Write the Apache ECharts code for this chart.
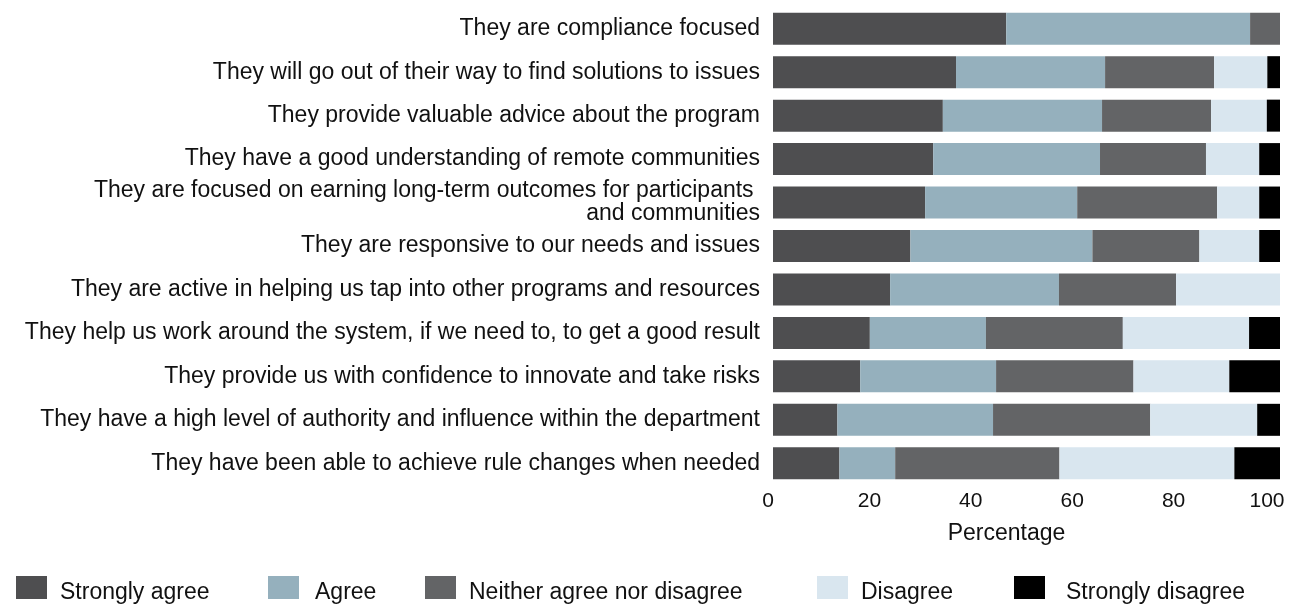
<!DOCTYPE html>
<html>
<head>
<meta charset="utf-8">
<script src="https://cdn.jsdelivr.net/npm/echarts@6/dist/echarts.min.js"></script>
<style>
  html, body { margin: 0; padding: 0; background: #fff; }
  #container { width: 1290px; height: 605px; }
</style>
</head>
<body>
<div id="container"></div>
<script>
// statements, top to bottom
var statements = [
    'They are compliance focused',
    'They will go out of their way to find solutions to issues',
    'They provide valuable advice about the program',
    'They have a good understanding of remote communities',
    'They are focused on earning long-term outcomes for participants \nand communities',
    'They are responsive to our needs and issues',
    'They are active in helping us tap into other programs and resources',
    'They help us work around the system, if we need to, to get a good result',
    'They provide us with confidence to innovate and take risks',
    'They have a high level of authority and influence within the department',
    'They have been able to achieve rule changes when needed'
];

// percentages
var stronglyAgree    = [46.0, 36.1, 33.5, 31.6, 30.0, 27.1, 23.1, 19.1, 17.2, 12.7, 13.1];
var agree            = [48.1, 29.4, 31.4, 32.9, 30.0, 35.9, 33.3, 22.9, 26.8, 30.7, 11.0];
var neither          = [5.9, 21.5, 21.5, 20.9, 27.6, 21.1, 23.1, 27.0, 27.1, 31.0, 32.4];
var disagree         = [0, 10.5, 11.0, 10.5, 8.3, 11.8, 20.5, 24.9, 18.9, 21.1, 34.5];
var stronglyDisagree = [0, 2.5, 2.6, 4.1, 4.1, 4.1, 0, 6.1, 10.0, 4.5, 9.1];

var xTicks = [0, 20, 40, 60, 80, 100];

var seriesNames = ['Strongly agree', 'Agree', 'Neither agree nor disagree', 'Disagree', 'Strongly disagree'];
var seriesData = [stronglyAgree, agree, neither, disagree, stronglyDisagree];
var colors = ['#4e4e50', '#95b0bd', '#636466', '#d9e6ef', '#000000'];
var legendLeft = [16, 268, 425, 817, 1014];
var legendTextGap = [8, 11, 8, 8, 16];

var dom = document.getElementById('container');
var myChart = echarts.init(dom);
var font = '"Liberation Sans", Arial, Helvetica, sans-serif';

var series = [];
seriesNames.forEach(function (name, i) {
    series.push({
        name: name,
        type: 'bar',
        stack: 'total',
        barWidth: 32,
        itemStyle: { color: colors[i] },
        emphasis: { disabled: true },
        data: seriesData[i]
    });
});

// one legend per item so the odd spacing can be kept
var legends = seriesNames.map(function (name, i) {
    return {
        data: [name],
        left: legendLeft[i],
        top: 576,
        padding: 0,
        itemWidth: 31,
        itemHeight: 23,
        icon: 'rect',
        selectedMode: false,
        formatter: '{t|{name}}',
        textStyle: {
            rich: {
                t: {
                    fontFamily: font,
                    fontSize: 23,
                    color: '#111',
                    padding: [11, 0, 0, legendTextGap[i]]
                }
            }
        }
    };
});

var tickText = { fontFamily: font, fontSize: 21, color: '#111' };

var option = {
    backgroundColor: '#fff',
    animation: false,
    color: colors,
    grid: {
        left: 773,
        right: 10,
        top: 7,
        bottom: 120,
        outerBoundsMode: 'none'
    },
    legend: legends,
    xAxis: {
        type: 'value',
        min: xTicks[0],
        max: xTicks[xTicks.length - 1],
        interval: 20,
        name: 'Percentage',
        nameLocation: 'middle',
        nameGap: 37,
        nameTextStyle: {
            fontFamily: font,
            fontSize: 23,
            color: '#111',
            padding: [0, 40, 0, 0]
        },
        axisLine: { show: false },
        axisTick: { show: false },
        splitLine: { show: false },
        axisLabel: {
            margin: 6,
            formatter: function (v) {
                return v === 100 ? '{last|' + v + '}' : '{n|' + v + '}';
            },
            rich: {
                n: Object.assign({ padding: [0, 10, 0, 0] }, tickText),
                last: Object.assign({ padding: [0, 26, 0, 0] }, tickText)
            }
        }
    },
    yAxis: {
        type: 'category',
        inverse: true,
        data: statements,
        axisLine: { show: false },
        axisTick: { show: false },
        splitLine: { show: false },
        axisLabel: {
            fontFamily: font,
            fontSize: 23,
            lineHeight: 23,
            color: '#111',
            margin: 13,
            align: 'right'
        }
    },
    series: series
};

myChart.setOption(option);
</script>
</body>
</html>
